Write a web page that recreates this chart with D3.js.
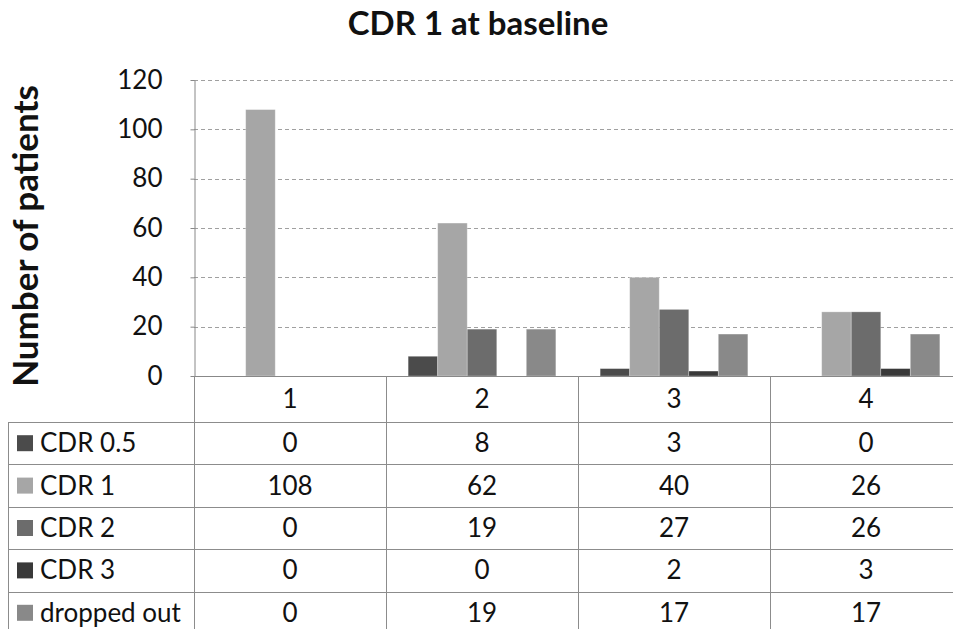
<!DOCTYPE html>
<html>
<head>
<meta charset="utf-8">
<script src="https://cdn.jsdelivr.net/npm/d3@7"></script>
<style>
  html, body { margin: 0; padding: 0; background: #fff; }
  svg { display: block; }
</style>
</head>
<body>
<script>
const categories = ["1", "2", "3", "4"];
const seriesNames = ["CDR 0.5", "CDR 1", "CDR 2", "CDR 3", "dropped out"];
const cdr05 = [0, 8, 3, 0];
const cdr1 = [108, 62, 40, 26];
const cdr2 = [0, 19, 27, 26];
const cdr3 = [0, 0, 2, 3];
const droppedOut = [0, 19, 17, 17];
const yTicks = [0, 20, 40, 60, 80, 100, 120];
const seriesColors = ["#4b4b4b", "#a6a6a6", "#6c6c6c", "#393939", "#898989"];

const seriesValues = [cdr05, cdr1, cdr2, cdr3, droppedOut];

const W = 953, H = 629;
const font = "Lato, 'Open Sans', sans-serif";
const fs = 26;
const svg = d3.select("body").append("svg").attr("width", W).attr("height", H);

const plotLeft = 194, bandW = 192;
const x = d3.scaleBand().domain(categories).range([plotLeft, plotLeft + bandW * categories.length]).paddingInner(0).paddingOuter(0);
const xs = d3.scaleBand().domain(seriesNames).range([0, x.bandwidth()]).paddingInner(0).paddingOuter(0.75);
const y = d3.scaleLinear().domain([0, 120]).range([376, 80]);
const xEnd = plotLeft + bandW * categories.length;

// Title
svg.append("text").attr("x", 478).attr("y", 35).attr("text-anchor", "middle")
  .attr("font-family", font).attr("font-weight", "bold").attr("font-size", 33)
  .attr("fill", "#111").text("CDR 1 at baseline");

// Y axis title
svg.append("text")
  .attr("transform", `translate(38, 236) rotate(-90)`)
  .attr("text-anchor", "middle")
  .attr("font-family", font).attr("font-weight", "bold").attr("font-size", 35)
  .attr("fill", "#111").text("Number of patients");

// Gridlines
svg.append("g").selectAll("line").data(yTicks.filter(d => d > 0)).join("line")
  .attr("x1", plotLeft).attr("x2", xEnd)
  .attr("y1", d => Math.round(y(d)) + 0.5).attr("y2", d => Math.round(y(d)) + 0.5)
  .attr("stroke", "#a0a0a0").attr("stroke-width", 1).attr("stroke-dasharray", "4,3");

// Y axis
const yAxis = svg.append("g").attr("transform", `translate(${plotLeft + 0.5},0)`)
  .call(d3.axisLeft(y).tickValues(yTicks).tickSize(4).tickSizeOuter(0).tickPadding(28));
yAxis.select(".domain").attr("stroke", "#888");
yAxis.selectAll(".tick line").attr("stroke", "#888");
yAxis.selectAll(".tick text").attr("font-family", font).attr("font-size", fs).attr("fill", "#111");

// Bars
const barData = [];
categories.forEach((c, ci) => {
  seriesNames.forEach((s, si) => {
    barData.push({ c, s, si, v: seriesValues[si][ci] });
  });
});
svg.append("g").selectAll("rect").data(barData.filter(d => d.v > 0)).join("rect")
  .attr("x", d => x(d.c) + xs(d.s))
  .attr("width", xs.bandwidth())
  .attr("y", d => y(d.v))
  .attr("height", d => y(0) - y(d.v))
  .attr("fill", d => seriesColors[d.si])
  .attr("stroke", "#ffffff").attr("stroke-opacity", 0.35).attr("stroke-width", 0.8);

// Zero axis line
svg.append("line").attr("x1", plotLeft).attr("x2", xEnd)
  .attr("y1", y(0) + 0.5).attr("y2", y(0) + 0.5).attr("stroke", "#888");

// Data table
const headerTop = 376, headerBottom = 422, rowH = 42.4, tableLeft = 8.5;
const lineColor = "#8c8c8c";
const tbl = svg.append("g");
const colEdges = categories.map(c => x(c)).concat([xEnd]);
tbl.selectAll(".vh").data(colEdges).join("line")
  .attr("x1", d => Math.round(d) + 0.5).attr("x2", d => Math.round(d) + 0.5)
  .attr("y1", headerTop).attr("y2", H).attr("stroke", lineColor);
tbl.append("line").attr("x1", tableLeft).attr("x2", tableLeft)
  .attr("y1", headerBottom).attr("y2", H).attr("stroke", lineColor);
const rowTops = seriesNames.map((s, i) => headerBottom + i * rowH);
tbl.selectAll(".hl").data(rowTops).join("line")
  .attr("x1", tableLeft).attr("x2", xEnd)
  .attr("y1", d => Math.round(d) + 0.5).attr("y2", d => Math.round(d) + 0.5)
  .attr("stroke", lineColor);
tbl.selectAll(".hdr").data(categories).join("text")
  .attr("x", d => x(d) + x.bandwidth() / 2).attr("y", 408)
  .attr("text-anchor", "middle").attr("font-family", font).attr("font-size", fs).attr("fill", "#111")
  .text(d => d);
seriesNames.forEach((s, i) => {
  const top = headerBottom + i * rowH;
  const cy = top + rowH / 2;
  tbl.append("rect").attr("x", 17).attr("y", cy - 8).attr("width", 16).attr("height", 16)
    .attr("fill", seriesColors[i]);
  tbl.append("text").attr("x", 40).attr("y", cy + 9)
    .attr("font-family", font).attr("font-size", fs).attr("fill", "#111").text(s);
  categories.forEach((c, ci) => {
    tbl.append("text").attr("x", x(c) + x.bandwidth() / 2).attr("y", cy + 9)
      .attr("text-anchor", "middle").attr("font-family", font).attr("font-size", fs).attr("fill", "#111")
      .text(seriesValues[i][ci]);
  });
});
</script>
</body>
</html>
